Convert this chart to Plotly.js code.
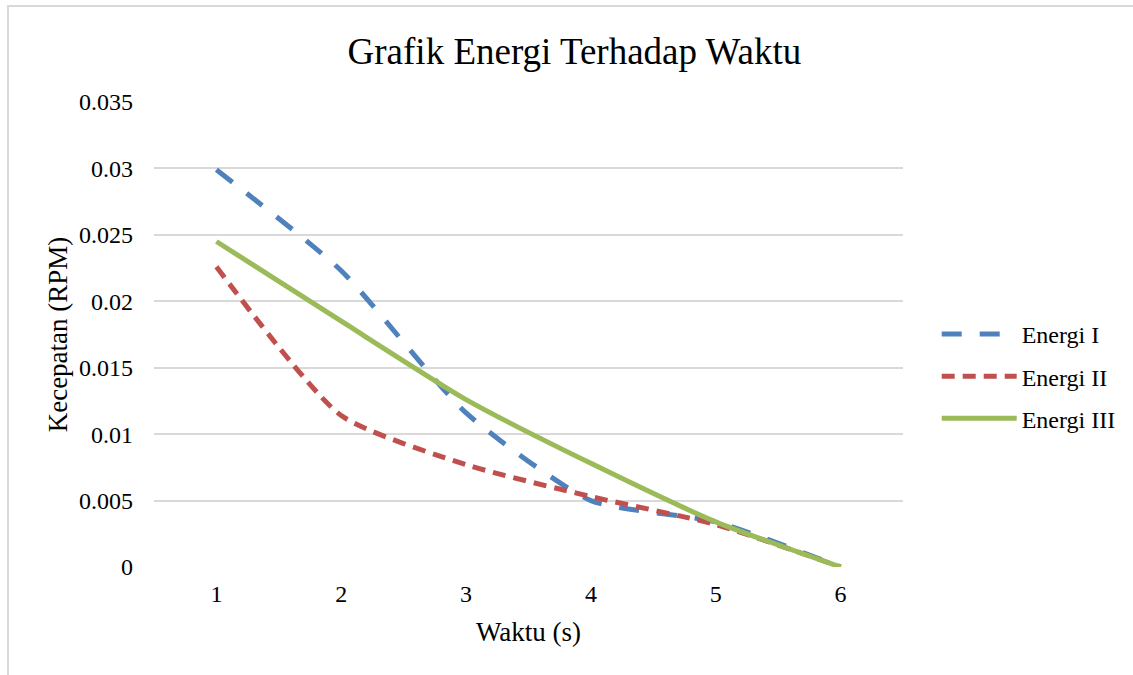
<!DOCTYPE html>
<html>
<head>
<meta charset="utf-8">
<script src="https://cdn.plot.ly/plotly-3.0.1.min.js"></script>
<style>
  html, body { margin: 0; padding: 0; background: #fff; }
  #wrap { position: relative; width: 1133px; height: 675px; overflow: hidden; }
  #frame { position: absolute; left: 7px; top: 5px; width: 1140px; height: 700px; border: 2px solid #d9d9d9; box-sizing: border-box; pointer-events: none; }
  #chart { position: absolute; left: 0; top: 0; width: 1133px; height: 675px; }
</style>
</head>
<body>
<div id="wrap">
  <div id="chart"></div>
  <div id="frame"></div>
</div>
<script>
const waktu = [1, 2, 3, 4, 5, 6];
const energiI = [0.0299, 0.0223, 0.0116, 0.0050, 0.0034, 0];
const energiII = [0.0226, 0.0114, 0.0077, 0.0053, 0.0032, 0];
const energiIII = [0.0245, 0.0185, 0.0126, 0.0078, 0.0034, 0];
const seriesNames = ['Energi I', 'Energi II', 'Energi III'];
const tickVals = [0, 0.005, 0.01, 0.015, 0.02, 0.025, 0.03, 0.035];
const tickText = ['0', '0.005', '0.01', '0.015', '0.02', '0.025', '0.03', '0.035'];

const font = 'Liberation Serif, Times New Roman, serif';

const traces = [
  { x: waktu, y: energiI, name: seriesNames[0], mode: 'lines', legendgroup: 'a',
    line: { color: '#4F81BD', width: 5, dash: '20px,18px', shape: 'spline', smoothing: 0.6 } },
  { x: waktu, y: energiII, name: seriesNames[1], mode: 'lines', legendgroup: 'b',
    line: { color: '#C0504D', width: 5, dash: '13px,8px', shape: 'spline', smoothing: 0.6 } },
  { x: waktu, y: energiIII, name: seriesNames[2], mode: 'lines', legendgroup: 'c',
    line: { color: '#9BBB59', width: 5, shape: 'spline', smoothing: 0.6 } }
];

const layout = {
  width: 1133, height: 675,
  paper_bgcolor: 'rgba(0,0,0,0)', plot_bgcolor: '#fff',
  margin: { l: 154, r: 230, t: 102, b: 108 },
  font: { family: font, size: 24, color: '#000' },
  title: { text: 'Grafik Energi Terhadap Waktu', font: { family: font, size: 37, color: '#000' },
           x: 0.507, xanchor: 'center', y: 0.925, yanchor: 'middle' },
  showlegend: true,
  legend: { x: 1.045, y: 0.41, xanchor: 'left', yanchor: 'middle',
            font: { family: font, size: 24, color: '#000' },
            itemwidth: 75, tracegroupgap: 8, bgcolor: 'rgba(0,0,0,0)' },
  xaxis: {
    range: [0.5, 6.5], tickvals: waktu, ticktext: waktu.map(String),
    showgrid: false, zeroline: false, showline: false, ticks: '',
    tickfont: { family: font, size: 24 }, ticklabelstandoff: 10,
    title: { text: 'Waktu (s)', font: { family: font, size: 27 }, standoff: 16 }
  },
  yaxis: {
    range: [0, 0.035], tickvals: tickVals, ticktext: tickText,
    showgrid: true, gridcolor: '#d9d9d9', gridwidth: 2, zeroline: false,
    showline: false, ticks: '', tickfont: { family: font, size: 24 },
    ticklabelstandoff: 20,
    title: { text: 'Kecepatan (RPM)', font: { family: font, size: 27 }, standoff: 3 }
  }
};

Plotly.newPlot('chart', traces, layout, { displayModeBar: false, staticPlot: true });
</script>
</body>
</html>
